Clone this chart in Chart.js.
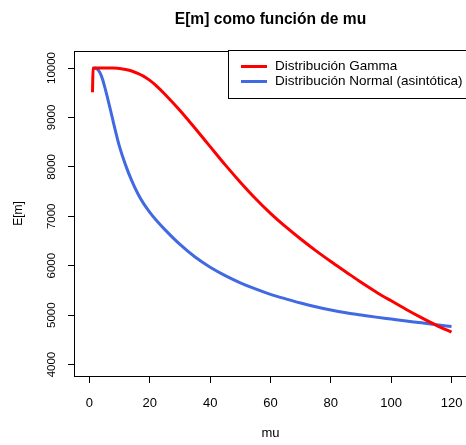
<!DOCTYPE html>
<html lang="es">
<head>
<meta charset="utf-8">
<title>E[m] como función de mu</title>
<script src="https://cdn.jsdelivr.net/npm/chart.js@4.4.1/dist/chart.umd.min.js"></script>
<style>
  html, body { margin: 0; padding: 0; background: #fff; }
  #em-chart { display: block; }
</style>
</head>
<body>
<canvas id="em-chart" width="466" height="445"></canvas>
<script>
// valores
const muGamma = [1, 1.2, 2, 4, 6, 8, 10, 12, 14, 16, 18, 20, 22, 25, 30, 35, 40, 45, 50,
    55, 60, 65, 70, 75, 80, 85, 90, 95, 100, 105, 110, 115, 120];
const emGamma = [9510, 9990, 10000, 10000, 10000, 9998, 9990, 9970, 9940, 9890, 9830, 9750,
    9650, 9470, 9140, 8780, 8410, 8040, 7690, 7360, 7060, 6790, 6540, 6305, 6085, 5875,
    5665, 5470, 5290, 5115, 4950, 4795, 4655];

const muNormal = [1, 2, 3, 4, 5, 6, 7, 8, 9, 10, 12, 14, 16, 18, 20, 22, 25, 30, 35, 40,
    45, 50, 55, 60, 65, 70, 75, 80, 85, 90, 95, 100, 105, 110, 115, 120];
const emNormal = [10000, 9995, 9950, 9830, 9630, 9390, 9140, 8880, 8630, 8400, 8030, 7720,
    7460, 7250, 7080, 6930, 6730, 6430, 6175, 5970, 5800, 5655, 5530, 5420, 5330, 5245,
    5170, 5105, 5050, 5005, 4960, 4920, 4880, 4845, 4805, 4770];

const seriesLabels = ['Distribución Gamma', 'Distribución Normal (asintótica)'];
const seriesColors = ['#FF0000', '#4169E1'];

const xTicks = [0, 20, 40, 60, 80, 100, 120];
const yTicks = [4000, 5000, 6000, 7000, 8000, 9000, 10000];

const chartTitle = 'E[m] como función de mu';
const FONT = '"Liberation Sans", Arial, Helvetica, sans-serif';

document.addEventListener('DOMContentLoaded', function () {
    Chart.defaults.font.family = FONT;
    Chart.defaults.color = '#000';

    function toPoints(xs, ys) {
        return xs.map((x, i) => ({ x: x, y: ys[i] }));
    }

    // caja del grafico, titulo y leyenda al estilo de R
    const rStyle = {
        id: 'rStyle',
        afterDraw(chart) {
            const ctx = chart.ctx;
            const area = chart.chartArea;
            ctx.save();

            ctx.strokeStyle = '#000';
            ctx.lineWidth = 1;
            const l = Math.round(area.left) - 0.5;
            const t = Math.round(area.top) + 0.5;
            const r = Math.round(area.right) + 0.5;
            const b = Math.round(area.bottom) + 0.5;
            ctx.strokeRect(l, t, r - l, b - t);

            ctx.fillStyle = '#000';
            ctx.font = 'bold 15.6px ' + FONT;
            ctx.textAlign = 'center';
            ctx.textBaseline = 'middle';
            ctx.fillText(chartTitle, (area.left + area.right) / 2, 20);

            // leyenda
            const lx = 228.5, ly = 50.5;
            ctx.fillStyle = '#fff';
            ctx.fillRect(lx, ly, 470 - lx, 48);
            ctx.strokeRect(lx, ly, 470 - lx, 48);
            ctx.font = '13.5px ' + FONT;
            ctx.textAlign = 'left';
            chart.data.datasets.forEach((ds, i) => {
                const y = 66.5 + i * 15;
                ctx.strokeStyle = ds.borderColor;
                ctx.lineWidth = 3;
                ctx.beginPath();
                ctx.moveTo(241, y);
                ctx.lineTo(267, y);
                ctx.stroke();
                ctx.fillStyle = '#000';
                ctx.fillText(ds.label, 275, y);
            });
            ctx.restore();
        }
    };

    const ctx = document.getElementById('em-chart').getContext('2d');
    const emChart = new Chart(ctx, {
        type: 'line',
        data: {
            datasets: [{
                label: seriesLabels[0],
                data: toPoints(muGamma, emGamma),
                borderColor: seriesColors[0],
                borderWidth: 3,
                pointRadius: 0,
                cubicInterpolationMode: 'monotone',
                fill: false
            }, {
                label: seriesLabels[1],
                data: toPoints(muNormal, emNormal),
                borderColor: seriesColors[1],
                borderWidth: 3,
                pointRadius: 0,
                cubicInterpolationMode: 'monotone',
                fill: false
            }]
        },
        options: {
            responsive: false,
            animation: false,
            layout: {
                padding: { top: 51, right: 0, bottom: 0, left: 0 }
            },
            plugins: {
                legend: { display: false },
                title: { display: false },
                tooltip: { enabled: false }
            },
            scales: {
                x: {
                    type: 'linear',
                    min: -4.8,
                    max: 124.8,
                    afterBuildTicks: s => { s.ticks = xTicks.map(v => ({ value: v })); },
                    afterFit: s => {
                        s.height = 69;
                        s.paddingLeft = 0;
                        s.paddingRight = 0;
                    },
                    grid: { drawOnChartArea: false, tickLength: 7, color: '#000' },
                    border: { display: false },
                    ticks: {
                        font: { size: 13 },
                        padding: 13,
                        maxRotation: 0,
                        autoSkip: false,
                        callback: v => String(v)
                    },
                    title: {
                        display: true,
                        text: 'mu',
                        font: { size: 13 },
                        padding: { top: 0, bottom: 4 }
                    }
                },
                y: {
                    type: 'linear',
                    min: 3769,
                    max: 10344,
                    afterBuildTicks: s => { s.ticks = yTicks.map(v => ({ value: v })); },
                    afterFit: s => {
                        s.width = 75;
                        s.paddingTop = 0;
                        s.paddingBottom = 0;
                    },
                    grid: { drawOnChartArea: false, tickLength: 7, color: '#000' },
                    border: { display: false },
                    ticks: {
                        font: { size: 11.5 },
                        minRotation: 90,
                        maxRotation: 90,
                        crossAlign: 'center',
                        padding: 0,
                        autoSkip: false,
                        callback: v => String(v)
                    },
                    title: {
                        display: true,
                        text: 'E[m]',
                        font: { size: 12 },
                        padding: { top: 11, bottom: 0 }
                    }
                }
            }
        },
        plugins: [rStyle]
    });
});
</script>
</body>
</html>
